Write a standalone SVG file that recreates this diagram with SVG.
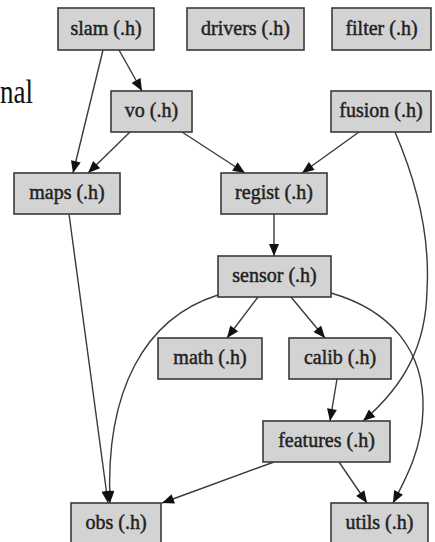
<svg xmlns="http://www.w3.org/2000/svg" width="435" height="542" viewBox="0 0 435 542">
<style>
.n rect{fill:#d3d3d3;stroke:#3a3a3a;stroke-width:1.6}
.n text{font-family:Liberation Serif,serif;font-size:20px;fill:#222;stroke:#222;stroke-width:0.45;text-anchor:middle}
.e path{fill:none;stroke:#3a3a3a;stroke-width:1.4}
</style>
<defs>
<marker id="a" viewBox="0 0 12 10" refX="12" refY="5" markerWidth="13" markerHeight="10" markerUnits="userSpaceOnUse" orient="auto">
<path d="M0,0 L12,5 L0,10 z" fill="#111"/>
</marker>
</defs>
<rect width="435" height="542" fill="#fff"/>
<text x="0" y="103" font-family="Liberation Serif, serif" font-size="33" textLength="33" lengthAdjust="spacingAndGlyphs" fill="#111">nal</text>
<g class="e">
<path marker-end="url(#a)" d="M103,50 L73,173"/>
<path marker-end="url(#a)" d="M119,50 L142,91"/>
<path marker-end="url(#a)" d="M130,132 L88,173"/>
<path marker-end="url(#a)" d="M182,132 L245,173"/>
<path marker-end="url(#a)" d="M359,132 L302,173"/>
<path marker-end="url(#a)" d="M395,132 C420,190 430,240 427,290 C426,345 405,385 363,421"/>
<path marker-end="url(#a)" d="M274,214 L274,256"/>
<path marker-end="url(#a)" d="M258,297 L227,338"/>
<path marker-end="url(#a)" d="M291,297 L325,338"/>
<path marker-end="url(#a)" d="M218,295 C145,318 105,390 110,503"/>
<path marker-end="url(#a)" d="M331,293 C390,310 425,350 423,410 C422,450 405,480 393,503"/>
<path marker-end="url(#a)" d="M69,214 L108,503"/>
<path marker-end="url(#a)" d="M337,379 L330,421"/>
<path marker-end="url(#a)" d="M274,462 L162,503"/>
<path marker-end="url(#a)" d="M339,462 L367,503"/>
</g>
<g id="slam" class="n"><rect x="58" y="8" width="96" height="42"/><text x="106" y="35">slam (.h)</text></g>
<g id="drivers" class="n"><rect x="187" y="8" width="117" height="42"/><text x="245.5" y="35">drivers (.h)</text></g>
<g id="filter" class="n"><rect x="332" y="8" width="99" height="42"/><text x="381.5" y="35">filter (.h)</text></g>
<g id="vo" class="n"><rect x="111" y="91" width="81" height="41"/><text x="151.5" y="117">vo (.h)</text></g>
<g id="fusion" class="n"><rect x="331" y="91" width="100" height="41"/><text x="381" y="117">fusion (.h)</text></g>
<g id="maps" class="n"><rect x="14" y="173" width="106" height="41"/><text x="67" y="199">maps (.h)</text></g>
<g id="regist" class="n"><rect x="221" y="173" width="106" height="41"/><text x="274" y="199">regist (.h)</text></g>
<g id="sensor" class="n"><rect x="218" y="256" width="113" height="41"/><text x="274.5" y="282">sensor (.h)</text></g>
<g id="math" class="n"><rect x="158" y="338" width="104" height="41"/><text x="210" y="364">math (.h)</text></g>
<g id="calib" class="n"><rect x="289" y="338" width="102" height="41"/><text x="340" y="364">calib (.h)</text></g>
<g id="features" class="n"><rect x="263" y="421" width="127" height="41"/><text x="326.5" y="447">features (.h)</text></g>
<g id="obs" class="n"><rect x="71" y="503" width="90" height="41"/><text x="116" y="529">obs (.h)</text></g>
<g id="utils" class="n"><rect x="331" y="503" width="97" height="41"/><text x="379.5" y="529">utils (.h)</text></g>
</svg>
